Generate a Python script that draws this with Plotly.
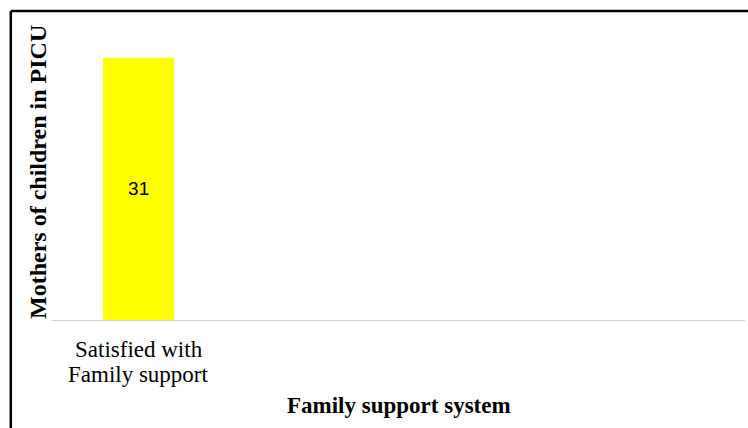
import plotly.graph_objects as go

categories = ["Satisfied with<br>Family support", "", "", ""]
values = [31, None, None, None]
labels = ["31", "", "", ""]

W, H = 748, 428
L, R, T, B = 52, 3, 24, 108
pw, ph = W - L - R, H - T - B

def px_x(x):
    return (x - L) / pw

def px_y(y):
    return (H - B - y) / ph

pos = list(range(len(categories)))

fig = go.Figure(go.Bar(
    x=pos, y=values, width=0.41,
    marker=dict(color="#FFFF00", line=dict(width=0)),
    text=labels, textposition="inside", insidetextanchor="middle",
    textfont=dict(family="Liberation Sans", size=19, color="#000000"),
    hoverinfo="skip",
))

annotations = [
    dict(text="<b>Mothers of children in PICU</b>", textangle=-90,
         xref="paper", yref="paper", x=px_x(38), y=0.5,
         xanchor="center", yanchor="middle", showarrow=False,
         font=dict(family="Liberation Serif", size=24, color="#000000")),
    dict(text="<b>Family support system</b>",
         xref="paper", yref="paper", x=0.5, y=px_y(405),
         xanchor="center", yanchor="middle", showarrow=False,
         font=dict(family="Liberation Serif", size=23, color="#000000")),
]
# category labels (two lines with tighter line spacing than plotly ticks)
line_centers = [349, 374]
for i, cat in enumerate(categories):
    for j, part in enumerate(cat.split("<br>")):
        if part:
            annotations.append(dict(
                text=part, xref="x", yref="paper", x=pos[i], y=px_y(line_centers[j]),
                xanchor="center", yanchor="middle", showarrow=False,
                font=dict(family="Liberation Serif", size=23, color="#000000")))

fig.update_layout(
    width=W, height=H,
    margin=dict(l=L, r=R, t=T, b=B),
    paper_bgcolor="white", plot_bgcolor="white",
    showlegend=False,
    xaxis=dict(
        range=[-0.5, 3.5], tickvals=pos, showticklabels=False,
        showline=True, linecolor="#d0d0d0", linewidth=1,
        showgrid=False, zeroline=False, ticks="",
        fixedrange=True,
    ),
    yaxis=dict(
        range=[0, 35], showticklabels=False, showgrid=False,
        zeroline=False, showline=False, ticks="", fixedrange=True,
    ),
    annotations=annotations,
    shapes=[
        dict(type="line", xref="paper", yref="paper",
             x0=px_x(10.8), x1=px_x(760), y0=px_y(11), y1=px_y(11),
             line=dict(color="#000000", width=2.5)),
        dict(type="line", xref="paper", yref="paper",
             x0=px_x(10.8), x1=px_x(10.8), y0=px_y(11), y1=px_y(440),
             line=dict(color="#000000", width=2.5)),
    ],
)

fig.write_html("out.html")
